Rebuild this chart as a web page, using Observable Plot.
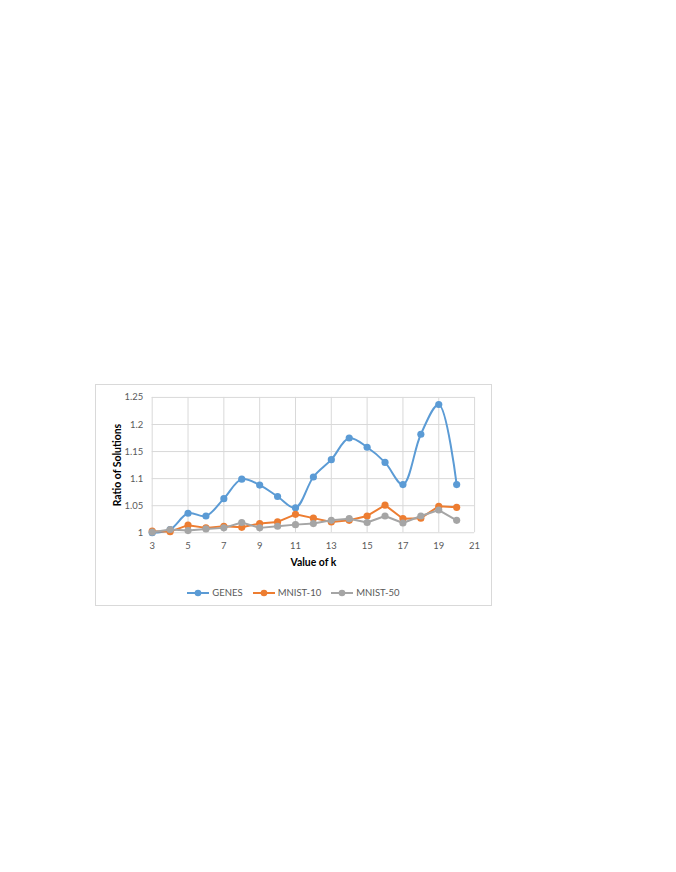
<!DOCTYPE html>
<html>
<head>
<meta charset="utf-8">
<script src="https://cdn.jsdelivr.net/npm/d3@7"></script>
<script src="https://cdn.jsdelivr.net/npm/@observablehq/plot@0.6"></script>
<style>
  html, body { margin: 0; padding: 0; background: #fff; }
  body { width: 676px; height: 872px; position: relative; font-family: Lato, "Open Sans", sans-serif; }
  #box { position: absolute; left: 95px; top: 384px; width: 397px; height: 222px; border: 1px solid #d9d9d9; box-sizing: border-box; }
  #chart { position: absolute; left: -1px; top: -1px; }
  #legend { position: absolute; left: 0; right: 0; top: 202px; display: flex; justify-content: center; gap: 10px; font-size: 9.5px; color: #595959; align-items: center; }
  .item { display: flex; align-items: center; gap: 3px; }
</style>
</head>
<body>
<div id="box"><div id="chart"></div><div id="legend"></div></div>
<script>
const kValues = [3,4,5,6,7,8,9,10,11,12,13,14,15,16,17,18,19,20];
const genes   = [1.000,1.006,1.036,1.031,1.063,1.099,1.088,1.067,1.046,1.103,1.135,1.175,1.158,1.130,1.089,1.182,1.237,1.089];
const mnist10 = [1.003,1.002,1.014,1.009,1.012,1.010,1.017,1.020,1.034,1.027,1.020,1.023,1.031,1.051,1.026,1.027,1.049,1.047];
const mnist50 = [1.001,1.006,1.004,1.007,1.009,1.019,1.009,1.012,1.015,1.017,1.023,1.026,1.019,1.031,1.018,1.031,1.042,1.023];
const seriesNames = ["GENES","MNIST-10","MNIST-50"];
const seriesColors = ["#5B9BD5","#ED7D31","#A5A5A5"];
const xTicks = [3,5,7,9,11,13,15,17,19,21];
const yTicks = [1,1.05,1.1,1.15,1.2,1.25];

const seriesValues = [genes, mnist10, mnist50];
const rows = [];
seriesNames.forEach((name, i) => kValues.forEach((k, j) => rows.push({series: name, k, v: seriesValues[i][j]})));

const color = {domain: seriesNames, range: seriesColors};
const marks = [
  Plot.gridX(xTicks, {stroke: "#d9d9d9", strokeOpacity: 1}),
  Plot.gridY(yTicks, {stroke: "#d9d9d9", strokeOpacity: 1}),
  Plot.axisY(yTicks, {tickSize: 0, tickPadding: 9, tickFormat: d => String(+d.toFixed(2)), fill: "#595959", fontSize: 9.5, label: null}),
  Plot.axisX(xTicks, {tickSize: 0, tickPadding: 10, fill: "#595959", fontSize: 9.5, label: null}),
  Plot.text(["Value of k"], {frameAnchor: "bottom", dy: 33, fontWeight: "bold", fontSize: 10.5, fill: "#000"}),
  Plot.text(["Ratio of Solutions"], {frameAnchor: "left", textAnchor: "middle", dx: -35, rotate: -90, fontWeight: "bold", fontSize: 10.5, fill: "#000"})
];
seriesNames.forEach((name, i) => {
  const d = rows.filter(r => r.series === name);
  marks.push(Plot.line(d, {x: "k", y: "v", stroke: "series", strokeWidth: 2, curve: i === 0 ? "catmull-rom" : "linear"}));
  marks.push(Plot.dot(d, {x: "k", y: "v", fill: "series", r: 3.6, stroke: "none"}));
});

const plot = Plot.plot({
  width: 398,
  height: 195,
  marginLeft: 57,
  marginRight: 17,
  marginTop: 13,
  marginBottom: 46,
  style: {fontFamily: "Lato, 'Open Sans', sans-serif", background: "transparent", overflow: "visible"},
  x: {domain: [3, 21]},
  y: {domain: [1, 1.25]},
  color,
  marks
});
document.getElementById("chart").appendChild(plot);

const legend = document.getElementById("legend");
seriesNames.forEach((name, i) => {
  const item = document.createElement("div");
  item.className = "item";
  item.innerHTML = `<svg width="22" height="8"><line x1="0" x2="22" y1="4" y2="4" stroke="${seriesColors[i]}" stroke-width="2"/><circle cx="11" cy="4" r="3.3" fill="${seriesColors[i]}"/></svg><span>${name}</span>`;
  legend.appendChild(item);
});
</script>
</body>
</html>
